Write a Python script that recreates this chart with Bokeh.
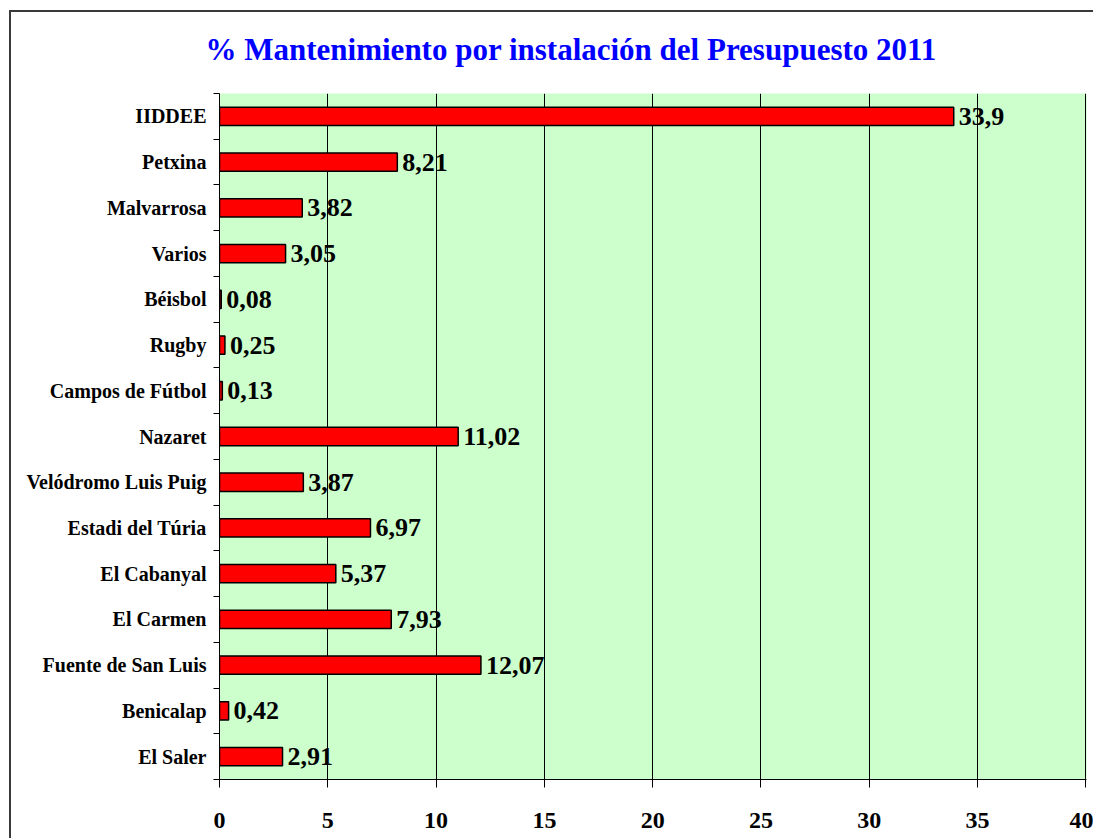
from bokeh.plotting import figure
from bokeh.models import ColumnDataSource, FixedTicker, Range1d, CustomJSTickFormatter
from bokeh.core.properties import value
from bokeh.embed import file_html
from bokeh.resources import INLINE

categories = ["IIDDEE", "Petxina", "Malvarrosa", "Varios", "Béisbol", "Rugby",
              "Campos de Fútbol", "Nazaret", "Velódromo Luis Puig", "Estadi del Túria",
              "El Cabanyal", "El Carmen", "Fuente de San Luis", "Benicalap", "El Saler"]
values = [33.9, 8.21, 3.82, 3.05, 0.08, 0.25, 0.13, 11.02, 3.87, 6.97, 5.37, 7.93, 12.07, 0.42, 2.91]
value_labels = ["33,9", "8,21", "3,82", "3,05", "0,08", "0,25", "0,13", "11,02", "3,87",
                "6,97", "5,37", "7,93", "12,07", "0,42", "2,91"]
x_ticks = [0, 5, 10, 15, 20, 25, 30, 35, 40]

n = len(categories)
ypos = [n - i - 0.5 for i in range(n)]

src = ColumnDataSource(dict(y=ypos, v=values, lab=value_labels, cat=categories))

FONT = "Liberation Serif"

p = figure(width=1093, height=838, output_backend="svg", toolbar_location=None,
           x_range=Range1d(0, 40.03), y_range=Range1d(0, n),
           min_border_left=219, min_border_right=7, min_border_top=93, min_border_bottom=59)

# chart-area border (top and left edges visible in the window)
p.styles = {
    "background": ("linear-gradient(#3a3a3a,#3a3a3a) 9px 10px / 100% 2px no-repeat, "
                   "linear-gradient(#3a3a3a,#3a3a3a) 9px 10px / 2px 100% no-repeat, white"),
}

p.title.text = "% Mantenimiento por instalación del Presupuesto 2011"
p.title.text_font = FONT
p.title.text_font_style = "bold"
p.title.text_font_size = "31px"
p.title.text_color = "#0000FF"
p.title.align = "left"
p.title.offset = -14
p.title.standoff = 54

p.background_fill_color = "#CCFFCC"
p.border_fill_color = None
p.outline_line_color = None

p.hbar(y="y", right="v", left=0, height=0.4, source=src,
       fill_color="#FF0000", line_color="black", line_width=1.5)

p.text(x="v", y="y", text="lab", source=src, x_offset=5, y_offset=0,
       text_font=value(FONT), text_font_style="bold", text_font_size="26px",
       text_baseline="middle", text_align="left", text_color="black")

# x axis
p.xaxis.ticker = FixedTicker(ticks=x_ticks)
p.xaxis.major_label_text_font = FONT
p.xaxis.major_label_text_font_style = "bold"
p.xaxis.major_label_text_font_size = "24px"
p.xaxis.major_label_text_color = "black"
p.xaxis.major_tick_in = 0
p.xaxis.major_tick_out = 8
p.xaxis.minor_tick_line_color = None
p.xaxis.major_label_standoff = 25
p.xaxis.axis_line_color = "black"
p.xaxis.major_tick_line_color = "black"

# y axis: labels at centres, ticks at boundaries
p.yaxis.ticker = FixedTicker(ticks=ypos, minor_ticks=list(range(0, n + 1)))
p.yaxis.formatter = CustomJSTickFormatter(args=dict(cats=categories, n=n),
                                          code="return cats[Math.round(n - tick - 0.5)];")
p.yaxis.major_tick_in = 0
p.yaxis.major_tick_out = 0
p.yaxis.minor_tick_in = 0
p.yaxis.minor_tick_out = 6
p.yaxis.minor_tick_line_color = "black"
p.yaxis.major_label_text_font = FONT
p.yaxis.major_label_text_font_style = "bold"
p.yaxis.major_label_text_font_size = "20px"
p.yaxis.major_label_text_color = "black"
p.yaxis.major_label_standoff = 7
p.yaxis.axis_line_color = "black"

p.xgrid.ticker = FixedTicker(ticks=x_ticks)
p.xgrid.grid_line_color = "black"
p.xgrid.grid_line_width = 1
p.ygrid.grid_line_color = None

open("out.html", "w").write(file_html(p, INLINE))
